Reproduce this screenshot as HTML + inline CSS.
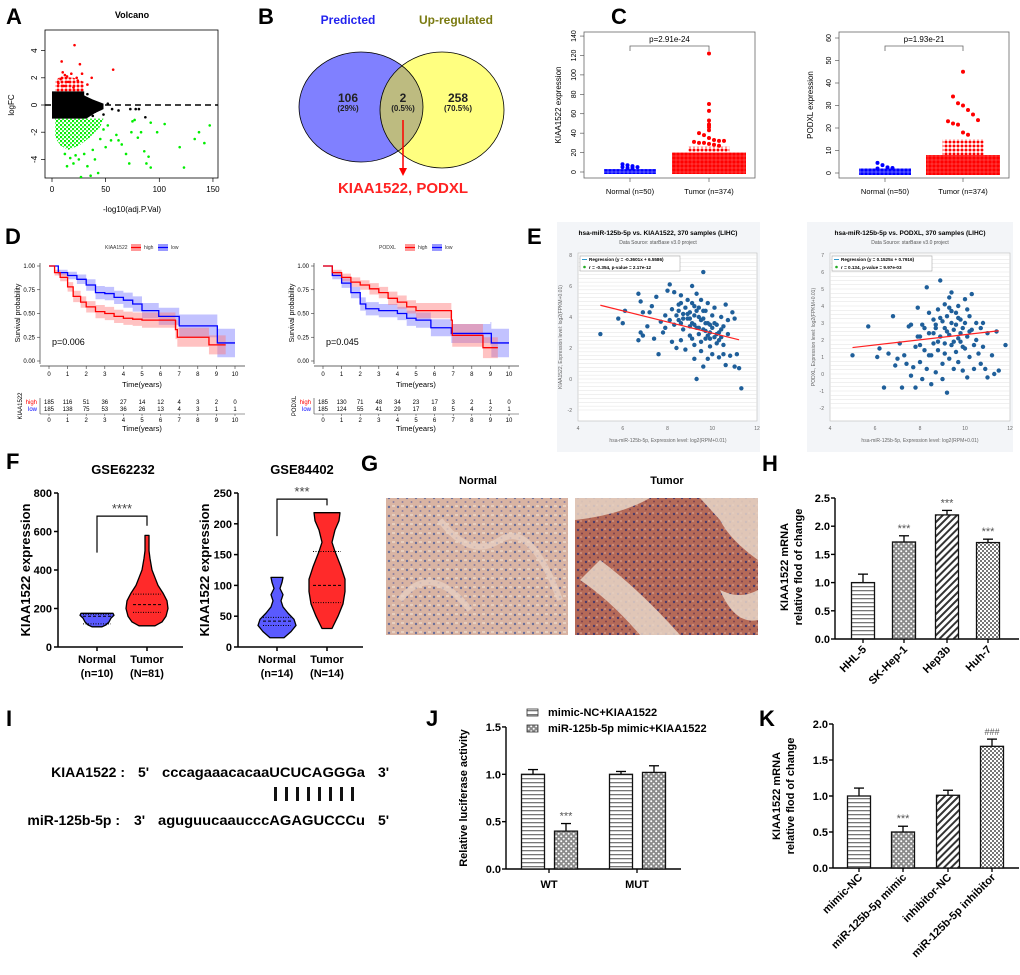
<!DOCTYPE html>
<html><head><meta charset="utf-8"><style>
html,body{margin:0;padding:0;background:#fff;}
svg{display:block;font-family:"Liberation Sans",Arial,sans-serif;}
.b{font-weight:bold;}
</style></head><body>
<svg id="fig" width="1020" height="975" viewBox="0 0 1020 975" xmlns="http://www.w3.org/2000/svg">
<defs>
<pattern id="pRed" width="4" height="4" patternUnits="userSpaceOnUse"><rect width="4" height="4" fill="#f33"/><circle cx="2" cy="2" r="1.6" fill="#f00"/></pattern>
<pattern id="pRedS" width="4" height="4" patternUnits="userSpaceOnUse"><circle cx="2" cy="2" r="1.5" fill="#f00"/></pattern>
<pattern id="pBlue" width="4" height="4" patternUnits="userSpaceOnUse"><rect width="4" height="4" fill="#55f"/><circle cx="2" cy="2" r="1.6" fill="#00f"/></pattern>
<pattern id="pGreen" width="4" height="4" patternUnits="userSpaceOnUse"><circle cx="1" cy="1" r="1.2" fill="#0e0"/><circle cx="3" cy="3" r="1" fill="#0e0"/></pattern>
<pattern id="pH" width="6" height="4" patternUnits="userSpaceOnUse"><rect width="6" height="4" fill="#fff"/><rect y="2" width="6" height="1.3" fill="#777"/></pattern>
<pattern id="pD" width="5" height="5" patternUnits="userSpaceOnUse"><rect width="5" height="5" fill="#8a8a8a"/><circle cx="1.2" cy="1.2" r="1" fill="#fff"/><circle cx="3.7" cy="3.7" r="1" fill="#fff"/></pattern>
<pattern id="pS" width="5" height="5" patternUnits="userSpaceOnUse" patternTransform="rotate(45)"><rect width="5" height="5" fill="#fff"/><rect width="2" height="5" fill="#333"/></pattern>
<pattern id="pC" width="4" height="4" patternUnits="userSpaceOnUse"><rect width="4" height="4" fill="#fff"/><rect width="2" height="2" fill="#777"/><rect x="2" y="2" width="2" height="2" fill="#777"/></pattern>
<pattern id="pTisN" width="9" height="9" patternUnits="userSpaceOnUse"><rect width="9" height="9" fill="#d9b4a3"/><circle cx="2" cy="3" r="1.2" fill="#6a6f9a"/><circle cx="6.5" cy="7" r="1" fill="#8a7fa0"/><rect x="5" y="1" width="3" height="2" fill="#e6cfc0"/></pattern>
<pattern id="pTisT" width="8" height="8" patternUnits="userSpaceOnUse"><rect width="8" height="8" fill="#b56a58"/><circle cx="2" cy="2" r="1.2" fill="#4a3a6a"/><circle cx="6" cy="5.5" r="1" fill="#7a4050"/><rect x="4" y="0" width="2" height="2" fill="#c98a78"/></pattern>
<clipPath id="clipA"><rect x="45" y="30" width="173" height="148"/></clipPath>
<clipPath id="clipE1"><rect x="578" y="253" width="179" height="168"/></clipPath>
<clipPath id="clipE2"><rect x="830" y="253" width="180" height="168"/></clipPath>
<clipPath id="clipVennL"><ellipse cx="361" cy="107" rx="62" ry="55"/></clipPath>
</defs>

<g class="b" font-size="22">
<text x="6" y="24">A</text>
<text x="258" y="24">B</text>
<text x="611" y="24">C</text>
<text x="5" y="244">D</text>
<text x="527" y="244">E</text>
<text x="6" y="469">F</text>
<text x="361" y="471">G</text>
<text x="762" y="471">H</text>
<text x="6" y="726">I</text>
<text x="426" y="726">J</text>
<text x="759" y="726">K</text>
</g>

<g id="panelA">
<text x="132" y="18" font-size="9" class="b" text-anchor="middle">Volcano</text>
<rect x="45" y="30" width="173" height="148" fill="none" stroke="#000" stroke-width="0.8"/>
<text transform="translate(14,105) rotate(-90)" font-size="8" text-anchor="middle">logFC</text>
<text x="132" y="212" font-size="8" text-anchor="middle">-log10(adj.P.Val)</text>
</g>

<g>
<text x="348" y="24" font-size="12" class="b" fill="#2222ee" text-anchor="middle">Predicted</text>
<text x="456" y="24" font-size="12" class="b" fill="#7a7a10" text-anchor="middle">Up-regulated</text>
<ellipse cx="361" cy="107" rx="62" ry="55" fill="#8080ff"/>
<ellipse cx="442" cy="110" rx="62" ry="58" fill="#ffff80"/>
<ellipse cx="442" cy="110" rx="62" ry="58" fill="#bdbb80" clip-path="url(#clipVennL)"/>
<ellipse cx="361" cy="107" rx="62" ry="55" fill="none" stroke="#000" stroke-width="0.8"/>
<ellipse cx="442" cy="110" rx="62" ry="58" fill="none" stroke="#000" stroke-width="0.8"/>
<g class="b" text-anchor="middle" fill="#222">
<text x="348" y="102" font-size="12">106</text>
<text x="348" y="111" font-size="8">(29%)</text>
<text x="403" y="102" font-size="12">2</text>
<text x="403" y="111" font-size="8">(0.5%)</text>
<text x="458" y="102" font-size="12">258</text>
<text x="458" y="111" font-size="8">(70.5%)</text>
</g>
<line x1="403" y1="120" x2="403" y2="170" stroke="#f00" stroke-width="1.5"/>
<path d="M399,168 L403,176 L407,168 Z" fill="#f00"/>
<text x="403" y="193" font-size="15" class="b" fill="#f22" text-anchor="middle">KIAA1522, PODXL</text>
</g>

<g id="panelC">
<rect x="584" y="32" width="171" height="146" fill="none" stroke="#666" stroke-width="0.8"/>
<rect x="839" y="32" width="170" height="146" fill="none" stroke="#666" stroke-width="0.8"/>
<text transform="translate(561,105) rotate(-90)" font-size="8" text-anchor="middle">KIAA1522 expression</text>
<text transform="translate(813,105) rotate(-90)" font-size="8" text-anchor="middle">PODXL expression</text>
</g>

<g id="panelD"></g>
<g id="panelE">
<rect x="557" y="222" width="203" height="230" fill="#f3f5f8"/>
<rect x="807" y="222" width="206" height="230" fill="#f3f5f8"/>
<rect x="578" y="253" width="179" height="168" fill="#fff" stroke="#bbb" stroke-width="0.6"/>
<rect x="830" y="253" width="180" height="168" fill="#fff" stroke="#bbb" stroke-width="0.6"/>
<text x="658" y="235" font-size="6.5" class="b" text-anchor="middle">hsa-miR-125b-5p vs. KIAA1522, 370 samples (LIHC)</text>
<text x="658" y="244" font-size="5" fill="#555" text-anchor="middle">Data Source:  starBase v3.0 project</text>
<text x="910" y="235" font-size="6.5" class="b" text-anchor="middle">hsa-miR-125b-5p vs. PODXL, 370 samples (LIHC)</text>
<text x="910" y="244" font-size="5" fill="#555" text-anchor="middle">Data Source:  starBase v3.0 project</text>
<text x="668" y="442" font-size="5" fill="#666" text-anchor="middle">hsa-miR-125b-5p, Expression level: log2(RPM+0.01)</text>
<text x="920" y="442" font-size="5" fill="#666" text-anchor="middle">hsa-miR-125b-5p, Expression level: log2(RPM+0.01)</text>
<text transform="translate(562,337) rotate(-90)" font-size="5" fill="#666" text-anchor="middle">KIAA1522, Expression level: log2(FPKM+0.01)</text>
<text transform="translate(815,337) rotate(-90)" font-size="5" fill="#666" text-anchor="middle">PODXL, Expression level: log2(FPKM+0.01)</text>
</g>
<g id="panelF">
<text x="123" y="474" font-size="13" class="b" text-anchor="middle">GSE62232</text>
<text x="302" y="474" font-size="13" class="b" text-anchor="middle">GSE84402</text>
<text transform="translate(30,570) rotate(-90)" font-size="13" class="b" text-anchor="middle">KIAA1522 expression</text>
<text transform="translate(209,570) rotate(-90)" font-size="13" class="b" text-anchor="middle">KIAA1522 expression</text>
</g>

<g>
<text x="478" y="484" font-size="11" class="b" text-anchor="middle">Normal</text>
<text x="667" y="484" font-size="11" class="b" text-anchor="middle">Tumor</text>
<rect x="386" y="498" width="182" height="137" fill="url(#pTisN)"/>
<path d="M440,520 Q470,560 500,540 T560,600 M400,600 Q430,560 470,610" stroke="#e8d2c4" stroke-width="6" fill="none" opacity="0.7"/>
<rect x="575" y="498" width="183" height="137" fill="url(#pTisT)"/>
<path d="M575,498 L650,498 Q620,515 575,520 Z M700,498 L758,498 L758,560 Q730,540 720,520 Z M600,560 Q640,590 680,635 L640,635 Q610,600 580,580 Z M720,590 Q740,600 758,590 L758,620 Q735,625 720,590Z" fill="#e8d6c8" opacity="0.85"/>
</g>

<g id="panelH">
<text transform="translate(788,567) rotate(-90)" font-size="11" class="b" text-anchor="middle">KIAA1522 mRNA</text>
<text transform="translate(802,567) rotate(-90)" font-size="11" class="b" text-anchor="middle">relative flod of change</text>
</g>

<g class="b" font-size="14">
<text x="125" y="777" text-anchor="end">KIAA1522 :</text>
<text x="138" y="777">5'</text>
<text x="162" y="777" textLength="203" lengthAdjust="spacingAndGlyphs">cccagaaacacaaUCUCAGGGa</text>
<text x="378" y="777">3'</text>
<text x="120" y="825" text-anchor="end">miR-125b-5p :</text>
<text x="134" y="825">3'</text>
<text x="158" y="825" textLength="207" lengthAdjust="spacingAndGlyphs">aguguucaaucccAGAGUCCCu</text>
<text x="378" y="825">5'</text>
<g fill="#111">
<rect x="274" y="787" width="3" height="14"/><rect x="285" y="787" width="3" height="14"/><rect x="296" y="787" width="3" height="14"/><rect x="307" y="787" width="3" height="14"/><rect x="318" y="787" width="3" height="14"/><rect x="329" y="787" width="3" height="14"/><rect x="340" y="787" width="3" height="14"/><rect x="351" y="787" width="3" height="14"/>
</g>
</g>

<g id="panelJ">
<text transform="translate(467,798) rotate(-90)" font-size="11" class="b" text-anchor="middle">Relative luciferase activity</text>
<rect x="527" y="709" width="11" height="7" fill="url(#pH)" stroke="#333" stroke-width="0.8"/>
<text x="548" y="716" font-size="11" class="b">mimic-NC+KIAA1522</text>
<rect x="527" y="725" width="11" height="7" fill="url(#pD)" stroke="#333" stroke-width="0.8"/>
<text x="548" y="732" font-size="11" class="b">miR-125b-5p mimic+KIAA1522</text>
</g>
<g id="panelK">
<text transform="translate(780,796) rotate(-90)" font-size="11" class="b" text-anchor="middle">KIAA1522 mRNA</text>
<text transform="translate(794,796) rotate(-90)" font-size="11" class="b" text-anchor="middle">relative flod of change</text>
</g>
</svg>

<script>
// ===== DATA =====
const volcanoRed=[[21,4.4],[9,3.2],[26,3],[57,2.6],[12,2.2],[18,2.3],[28,2.3],[37,2],[8,1.9],[15,1.7],[24,1.8],[33,1.5],[6,1.6],[11,1.4],[20,1.3],[14,2.1],[23,2.0],[10,2.4]];
const volcanoBlack=[[35,0],[45,-0.3],[56,-0.3],[73,-0.3],[78,-0.3],[81,-0.3],[87,-0.9],[48,-0.7],[40,-0.5],[62,-0.4],[52,0.1],[30,0.6],[33,0.8],[38,-0.8]];
const volcanoGreen=[[75,-1.2],[77,-1.1],[92,-1.3],[105,-1.4],[147,-1.5],[137,-2],[133,-2.5],[142,-2.8],[119,-3.1],[123,-4.6],[86,-3.4],[88,-4.3],[90,-3.8],[92,-4.6],[72,-4.3],[69,-3.6],[80,-2.4],[83,-2],[74,-2],[60,-2.2],[62,-2.6],[65,-2.9],[55,-2.6],[50,-3.1],[45,-2.5],[40,-4],[43,-5],[36,-5.2],[27,-5.3],[14,-4.5],[20,-4.3],[25,-4],[33,-4.5],[48,-1.8],[52,-1.5],[98,-2],[38,-3.3],[30,-3.6],[17,-3.9],[12,-3.6],[22,-3.7]];
const volcanoBlackCloud=[[0,-1],[0,1],[30,1],[30,0.7],[38,0.4],[48,0.1],[48,-0.3],[40,-0.6],[32,-1]];
const volcanoRedCloud=[[3,1],[3,1.8],[8,2.1],[20,2.0],[30,1.7],[30,1]];
const volcanoGreenCloud=[[3,-1],[3,-2.4],[8,-3.0],[15,-3.3],[25,-3.0],[35,-2.4],[45,-1.6],[48,-1],[30,-1]];
const volcanoXTicks=[0,50,100,150];
const volcanoYTicks=[-4,-2,0,2,4];

const cLeftTicks=[0,20,40,60,80,100,120,140];
const cRightTicks=[0,10,20,30,40,50,60];
const cLeftNormalPts=[8,7,6,5,5,4,4];
const cLeftTumorPts=[122,70,63,53,49,48,46,43,40,38,35,33,32,32,31,30,30,29,28,27];
const cRightNormalPts=[4.5,3.5,2.5,2.2,2];
const cRightTumorPts=[45,34,31,30,28,26,23.5,23,22,21.5,18,17];
const cLeftTumorBlock=20, cLeftTumorUpper=26, cLeftNormalBlock=3, cRightTumorBlock=8, cRightTumorUpper=15, cRightNormalBlock=2;

const kmLeftHigh=[[0,1],[0.3,0.93],[0.6,0.88],[1,0.78],[1.3,0.68],[1.7,0.62],[2,0.57],[2.5,0.52],[3,0.5],[3.5,0.47],[4,0.45],[4.5,0.44],[5,0.43],[6.7,0.43],[6.8,0.33],[6.9,0.25],[8.5,0.25],[8.6,0.17],[9.5,0.17]];
const kmLeftHighCI=[0,0.03,0.04,0.05,0.06,0.06,0.06,0.07,0.07,0.07,0.07,0.07,0.08,0.08,0.1,0.1,0.1,0.1,0.1];
const kmLeftLow=[[0,1],[0.5,0.93],[1,0.9],[1.5,0.86],[2,0.8],[2.5,0.72],[3,0.71],[3.5,0.67],[4,0.64],[4.5,0.6],[5,0.53],[5.8,0.53],[5.9,0.47],[6.9,0.47],[7,0.37],[9,0.37],[9.05,0.19],[10,0.19]];
const kmLeftLowCI=[0,0.03,0.04,0.05,0.06,0.07,0.07,0.07,0.08,0.08,0.08,0.08,0.09,0.09,0.12,0.12,0.15,0.15];
const kmRightHigh=[[0,1],[0.5,0.93],[1,0.88],[1.5,0.83],[2,0.8],[2.5,0.76],[3,0.72],[3.5,0.66],[4,0.62],[4.5,0.57],[5,0.53],[6.8,0.53],[6.9,0.43],[6.95,0.27],[8.5,0.27],[8.6,0.14],[9.4,0.14]];
const kmRightHighCI=[0,0.03,0.04,0.05,0.05,0.06,0.06,0.07,0.07,0.07,0.08,0.08,0.1,0.12,0.12,0.11,0.11];
const kmRightLow=[[0,1],[0.5,0.9],[1,0.82],[1.5,0.72],[2,0.6],[2.3,0.55],[3,0.53],[4,0.5],[4.5,0.45],[5,0.43],[5.7,0.43],[5.8,0.35],[6.8,0.35],[6.9,0.29],[9,0.29],[9.05,0.19],[10,0.19]];
const kmRightLowCI=[0,0.04,0.05,0.06,0.07,0.07,0.07,0.07,0.08,0.08,0.08,0.09,0.09,0.1,0.12,0.15,0.15];
const kmTimeTicks=[0,1,2,3,4,5,6,7,8,9,10];
const kmSurvTicks=[0,0.25,0.5,0.75,1];
const riskLeftHigh=[185,116,51,36,27,14,12,4,3,2,0];
const riskLeftLow=[185,138,75,53,36,26,13,4,3,1,1];
const riskRightHigh=[185,130,71,48,34,23,17,3,2,1,0];
const riskRightLow=[185,124,55,41,29,17,8,5,4,2,1];

const eLeftPts=[[5,2.9],[5.8,3.9],[6,3.6],[6.1,4.4],[6.7,5.5],[6.8,5],[6.9,4.3],[6.8,3],[6.7,2.5],[6.9,2.8],[7.1,3.4],[7.2,4.3],[7.4,2.6],[7.5,5.3],[7.6,1.6],[7.7,3.7],[7.8,3],[7.9,4.1],[8,5.7],[8.1,6.1],[8.2,4.5],[8.2,2.4],[8.3,3.5],[8.3,5.6],[8.4,2],[8.5,4.8],[8.5,3.8],[8.6,5.4],[8.6,2.5],[8.7,4.2],[8.7,3.2],[8.8,4.6],[8.8,1.9],[8.9,3.9],[8.9,5.1],[9,3.4],[9,4.3],[9,2.8],[9.1,6],[9.1,4.9],[9.1,3.6],[9.2,1.3],[9.2,4.1],[9.2,2.2],[9.3,5.5],[9.3,3.3],[9.3,0],[9.4,4.6],[9.4,2.9],[9.5,3.8],[9.5,1.8],[9.5,5.1],[9.6,6.9],[9.6,3.2],[9.6,0.8],[9.7,4.4],[9.7,2.6],[9.8,3.6],[9.8,1.3],[9.8,4.9],[9.9,3],[9.9,2.1],[10,4.1],[10,3.3],[10,1.6],[10.1,2.7],[10.1,4.6],[10.2,3.5],[10.2,2.3],[10.3,1.4],[10.3,3],[10.4,4],[10.4,2.7],[10.5,3.4],[10.5,1.6],[10.6,0.9],[10.6,4.8],[10.7,2.9],[10.7,3.8],[10.8,1.5],[10.9,4.3],[11,3.9],[11,0.8],[11.1,1.6],[11.2,0.7],[11.3,-0.6],[8.7,3.9],[9.2,3.5],[9.4,3.3],[9.6,3.9],[9.9,3.5],[8.9,4.2],[9.1,2.6],[9.7,3.1],[10.1,3.6],[8.4,4.1],[8.6,3.6],[9.3,4.4],[9.5,2.4],[9.8,2.8],[10.3,2.5],[10.4,3.2],[7.3,4.7],[7.9,3.3],[8.1,3.8],[8.5,4.4],[8.6,4.9],[9,3.9],[9.2,4.7],[9.4,4],[9.6,4.4],[9.7,3.6],[9.9,2.6],[10.2,2.9],[10.5,2.2]];
const eRightPts=[[5,1.1],[5.7,2.8],[6.1,1],[6.2,1.5],[6.4,-0.8],[6.6,1.2],[6.8,3.4],[6.9,0.5],[7,0.9],[7.1,1.8],[7.2,-0.8],[7.3,1.1],[7.4,0.6],[7.5,2.8],[7.6,2.9],[7.6,-0.1],[7.7,0.4],[7.8,1.6],[7.8,-0.8],[7.9,3.9],[8,0.7],[8,2.2],[8.1,-0.3],[8.1,2.9],[8.2,1.4],[8.3,5.1],[8.3,0.3],[8.4,3.6],[8.4,2.4],[8.5,1.1],[8.5,-0.6],[8.6,3.2],[8.6,1.8],[8.7,2.7],[8.7,0.1],[8.8,3.8],[8.8,1.4],[8.9,5.5],[8.9,2.2],[9,3.1],[9,0.6],[9,-0.3],[9.1,2.7],[9.1,4.1],[9.1,1.2],[9.2,3.4],[9.2,-1.1],[9.3,4.5],[9.3,2.3],[9.3,0.9],[9.4,3],[9.4,1.7],[9.4,4.8],[9.5,2.6],[9.5,0.3],[9.6,3.6],[9.6,1.3],[9.7,2.1],[9.7,4],[9.7,0.7],[9.8,3.2],[9.8,1.9],[9.9,2.7],[9.9,0.2],[10,4.4],[10,3],[10,1.5],[10.1,2.2],[10.1,-0.2],[10.2,3.4],[10.2,1],[10.3,2.6],[10.3,4.7],[10.4,1.7],[10.4,0.3],[10.5,3],[10.5,2],[10.6,1.2],[10.7,2.7],[10.7,0.6],[10.8,1.6],[10.8,3],[10.9,0.3],[11,2.4],[11,-0.2],[11.2,1.1],[11.3,0],[11.4,2.5],[11.5,0.2],[11.8,1.7],[8.7,2.9],[8.9,3.3],[9.2,2.5],[9.4,3.7],[9.5,1.9],[9.6,2.9],[9.8,2.4],[8.6,2.4],[8.8,1.9],[9.1,1.8],[9.3,3.9],[9.7,3.3],[9.9,1.6],[10.1,3.8],[10.2,2.5],[8.4,1.1],[8.2,2.7],[8,1.7],[7.9,2.2]];
const eLeftReg=[-0.3601,6.5586];
const eRightReg=[0.1525,0.7916];
const eXTicks=[4,6,8,10,12];
const eLeftYTicks=[-2,0,2,4,6,8];
const eRightYTicks=[-2,-1,0,1,2,3,4,5,6,7];

const fLeftTicks=[0,200,400,600,800];
const fRightTicks=[0,50,100,150,200,250];
const fLeftNormal=[[105,5],[115,9],[130,12],[150,14],[165,17],[175,16]];
const fLeftTumor=[[110,8],[130,15],[160,19],[200,21],[240,20],[280,16],[320,11],[360,8],[400,5],[430,4],[460,3],[500,2],[540,2],[580,2]];
const fRightNormal=[[15,7],[25,14],[35,19],[45,17],[55,11],[65,6],[75,4],[85,6],[95,3],[105,5],[113,6]];
const fRightTumor=[[30,5],[50,11],[70,16],[90,18],[110,18],[130,14],[155,8],[170,5],[190,8],[205,12],[218,13]];
const fLeftLines=[[160,120,170],[220,180,275]];
const fRightLines=[[42,35,48],[100,72,155]];

const hCats=['HHL-5','SK-Hep-1','Hep3b','Huh-7'];
const hVals=[1.0,1.72,2.2,1.71];
const hErr=[0.15,0.11,0.08,0.06];
const hSig=['','***','***','***'];
const hTicks=[0,0.5,1,1.5,2,2.5];
const jGroups=['WT','MUT'];
const jNC=[1.0,1.0];
const jNCErr=[0.05,0.03];
const jMimic=[0.4,1.02];
const jMimicErr=[0.08,0.07];
const jTicks=[0,0.5,1,1.5];
const kCats=['mimic-NC','miR-125b-5p mimic','inhibitor-NC','miR-125b-5p inhibitor'];
const kVals=[1.0,0.5,1.01,1.69];
const kErr=[0.11,0.08,0.07,0.1];
const kSig=['','***','','###'];
const kTicks=[0,0.5,1,1.5,2];

// ===== DRAWING =====
const NS='http://www.w3.org/2000/svg';
const svg=document.getElementById('fig');
function el(tag,attrs,parent){const e=document.createElementNS(NS,tag);for(const k in attrs)e.setAttribute(k,attrs[k]);(parent||svg).appendChild(e);return e;}
function txt(s,attrs,parent){const e=el('text',attrs,parent);e.textContent=s;return e;}

(function(){
const g=document.getElementById('panelA');
const x=v=>52+v*1.073, y=v=>105-v*13.6;
const cg=el('g',{'clip-path':'url(#clipA)'},g);
const clouds=[[volcanoBlackCloud,'#000'],[volcanoRedCloud,'url(#pRedS)'],[volcanoGreenCloud,'url(#pGreen)']];
clouds.forEach(c=>{
 const p=el('polygon',{points:c[0].map(d=>x(d[0])+','+y(d[1])).join(' '),fill:c[1]},cg);
 
 
});
[[volcanoRed,'#f00'],[volcanoBlack,'#000'],[volcanoGreen,'#0e0']].forEach(s=>{
 s[0].forEach(d=>{
  const c=el('circle',{cx:x(d[0]),cy:y(d[1]),r:1.3,fill:s[1]},cg);
  
  
 });
});
const dl=el('line',{x1:45,x2:218,y1:y(0),y2:y(0),stroke:'#000','stroke-width':1.4,'stroke-dasharray':'6,4'},g);


volcanoXTicks.forEach(t=>{
 el('line',{x1:x(t),x2:x(t),y1:178,y2:182,stroke:'#000','stroke-width':0.7},g);
 const l=txt(t,{x:x(t),y:192,'font-size':8,'text-anchor':'middle'},g);
 
 
});
volcanoYTicks.forEach(t=>{
 el('line',{x1:41,x2:45,y1:y(t),y2:y(t),stroke:'#000','stroke-width':0.7},g);
 const l=txt(t,{transform:`translate(37,${y(t)}) rotate(-90)`,'font-size':8,'text-anchor':'middle'},g);
 
 
});
})();

(function(){
const g=document.getElementById('panelC');
function draw(box,yf,ticks,normX,tumX,nBlock,tBlock,tUpper,nPts,tPts,tColW,pLabel,bracketY){
 ticks.forEach(t=>{
  el('line',{x1:box-4,x2:box,y1:yf(t),y2:yf(t),stroke:'#444','stroke-width':0.6},g);
  const l=txt(t,{transform:`translate(${box-8},${yf(t)}) rotate(-90)`,'font-size':7,'text-anchor':'middle'},g);
  
  
 });
 const nb=el('rect',{x:normX-26,y:yf(nBlock),width:52,height:yf(0)-yf(nBlock)+2,fill:'url(#pBlue)'},g);
 
 
 const tb=el('rect',{x:tumX-tColW,y:yf(tBlock),width:tColW*2,height:yf(0)-yf(tBlock)+2,fill:'url(#pRed)'},g);
 
 
 const tu=el('rect',{x:tumX-tColW*0.55,y:yf(tUpper),width:tColW*1.1,height:yf(tBlock)-yf(tUpper),fill:'url(#pRedS)'},g);
 
 
 nPts.forEach((v,i)=>{
  const c=el('circle',{cx:normX+((i%4)-1.5)*5,cy:yf(v),r:2,fill:'#00f'},g);
  
  
 });
 tPts.forEach((v,i)=>{
  const off=v>40?0:((i%7)-3)*5;
  const c=el('circle',{cx:tumX+off,cy:yf(v),r:2,fill:'#f00'},g);
  
  
 });
 el('path',{d:`M${normX},${bracketY+5} V${bracketY} H${tumX} V${bracketY+5}`,fill:'none',stroke:'#666','stroke-width':0.8},g);
 const p=txt(pLabel,{x:(normX+tumX)/2,y:bracketY-4,'font-size':8,'text-anchor':'middle'},g);
 
 
 [[normX,'Normal (n=50)'],[tumX,'Tumor (n=374)']].forEach(d=>{
  el('line',{x1:d[0],x2:d[0],y1:178,y2:182,stroke:'#444','stroke-width':0.6},g);
  const l=txt(d[1],{x:d[0],y:194,'font-size':7.5,'text-anchor':'middle'},g);
  
  
 });
}
draw(584,v=>172-v*0.971,cLeftTicks,630,709,cLeftNormalBlock,cLeftTumorBlock,cLeftTumorUpper,cLeftNormalPts,cLeftTumorPts,37,'p=2.91e-24',46);
draw(839,v=>173-v*2.25,cRightTicks,885,963,cRightNormalBlock,cRightTumorBlock,cRightTumorUpper,cRightNormalPts,cRightTumorPts,37,'p=1.93e-21',46);
})();

(function(){
const g=document.getElementById('panelD');
const y=s=>361-s*95;
function step(pts,x){let d=`M${x(pts[0][0])},${y(pts[0][1])}`;for(let i=1;i<pts.length;i++)d+=` H${x(pts[i][0])} V${y(pts[i][1])}`;return d;}
function band(pts,ci,x){
 const up=pts.map((p,i)=>[p[0],Math.min(1,p[1]+ci[i])]);
 const lo=pts.map((p,i)=>[p[0],Math.max(0,p[1]-ci[i])]);
 let d=`M${x(up[0][0])},${y(up[0][1])}`;
 for(let i=1;i<up.length;i++)d+=` H${x(up[i][0])} V${y(up[i][1])}`;
 d+=` V${y(lo[lo.length-1][1])}`;
 for(let i=lo.length-2;i>=0;i--)d+=` H${x(lo[i+1][0])} V${y(lo[i][1])}`;
 return d+' Z';
}
function km(ox,high,highCI,low,lowCI,gene,pval,rH,rL){
 const x=t=>ox+9+t*18.6;
 const ax=ox;
 const b1=el('path',{d:band(low,lowCI,x),fill:'#7777ff',opacity:0.45},g);
 
 
 const b2=el('path',{d:band(high,highCI,x),fill:'#ff7777',opacity:0.45},g);
 
 
 const l1=el('path',{d:step(low,x),fill:'none',stroke:'#00f','stroke-width':1.3},g);
 
 
 const l2=el('path',{d:step(high,x),fill:'none',stroke:'#f00','stroke-width':1.3},g);
 
 
 el('line',{x1:ax,x2:ax,y1:263,y2:364,stroke:'#333','stroke-width':0.7},g);
 el('line',{x1:ax,x2:ax+205,y1:366,y2:366,stroke:'#333','stroke-width':0.7},g);
 kmSurvTicks.forEach(s=>{
  el('line',{x1:ax-3,x2:ax,y1:y(s),y2:y(s),stroke:'#333','stroke-width':0.6},g);
  const t=txt(s.toFixed(2),{x:ax-5,y:y(s)+2,'font-size':6,'text-anchor':'end'},g);
  
  
 });
 kmTimeTicks.forEach((tt,i)=>{
  el('line',{x1:x(tt),x2:x(tt),y1:366,y2:369,stroke:'#333','stroke-width':0.6},g);
  const t=txt(tt,{x:x(tt),y:376,'font-size':6,'text-anchor':'middle'},g);
  
  
  const a=txt(rH[i],{x:x(tt),y:404,'font-size':6,'text-anchor':'middle'},g);
  
  
  const b=txt(rL[i],{x:x(tt),y:411,'font-size':6,'text-anchor':'middle'},g);
  
  
  el('line',{x1:x(tt),x2:x(tt),y1:414,y2:416,stroke:'#333','stroke-width':0.5},g);
  const c=txt(tt,{x:x(tt),y:422,'font-size':6,'text-anchor':'middle'},g);
  
  
 });
 txt('Time(years)',{x:ox+102,y:387,'font-size':7.5,'text-anchor':'middle'},g);
 txt('Time(years)',{x:ox+102,y:431,'font-size':7.5,'text-anchor':'middle'},g);
 txt('Survival probability',{transform:`translate(${ax-20},313) rotate(-90)`,'font-size':7,'text-anchor':'middle'},g);
 txt(pval,{x:ox+12,y:345,'font-size':9},g);
 el('line',{x1:ax,x2:ax,y1:398,y2:414,stroke:'#333','stroke-width':0.6},g);
 el('line',{x1:ax,x2:ax+205,y1:414,y2:414,stroke:'#333','stroke-width':0.6},g);
 txt('high',{x:ax-3,y:404,'font-size':6,fill:'#f00','text-anchor':'end'},g);
 txt('low',{x:ax-3,y:411,'font-size':6,fill:'#00f','text-anchor':'end'},g);
 txt(gene,{transform:`translate(${ax-18},406) rotate(-90)`,'font-size':6,'text-anchor':'middle'},g);
 const lx=ox+65;
 txt(gene,{x:lx,y:249,'font-size':5,fill:'#333'},g);
 el('rect',{x:lx+26,y:244,width:10,height:7,fill:'#ff9999'},g);
 el('line',{x1:lx+26,x2:lx+36,y1:247.5,y2:247.5,stroke:'#f00','stroke-width':1.2},g);
 txt('high',{x:lx+39,y:249,'font-size':5,fill:'#333'},g);
 el('rect',{x:lx+53,y:244,width:10,height:7,fill:'#9999ff'},g);
 el('line',{x1:lx+53,x2:lx+63,y1:247.5,y2:247.5,stroke:'#00f','stroke-width':1.2},g);
 txt('low',{x:lx+66,y:249,'font-size':5,fill:'#333'},g);
}
km(40,kmLeftHigh,kmLeftHighCI,kmLeftLow,kmLeftLowCI,'KIAA1522','p=0.006',riskLeftHigh,riskLeftLow);
km(314,kmRightHigh,kmRightHighCI,kmRightLow,kmRightLowCI,'PODXL','p=0.045',riskRightHigh,riskRightLow);
})();

(function(){
const g=document.getElementById('panelE');
function sc(bx,bw,yf,yTicks,pts,reg,clip,x0,x1,rText){
 const x=v=>bx+(v-4)*bw/8;
 for(let v=yTicks[0];v<=yTicks[yTicks.length-1]+0.001;v+=0.25){
  el('line',{x1:bx,x2:bx+bw,y1:yf(v),y2:yf(v),stroke:'#e2e2e2','stroke-width':0.5},g);
 }
 yTicks.forEach(t=>{
  const l=txt(t,{x:bx-6,y:yf(t)+2,'font-size':5,fill:'#666','text-anchor':'end'},g);
  
  
 });
 eXTicks.forEach(t=>{
  const l=txt(t,{x:x(t),y:430,'font-size':5,fill:'#666','text-anchor':'middle'},g);
  
  
 });
 const cg=el('g',{'clip-path':`url(#${clip})`},g);
 pts.forEach(p=>{
  const c=el('circle',{cx:x(p[0]),cy:yf(p[1]),r:2.2,fill:'#1f5f9a'},cg);
  
  
 });
 const rl=el('line',{x1:x(x0),y1:yf(reg[0]*x0+reg[1]),x2:x(x1),y2:yf(reg[0]*x1+reg[1]),stroke:'#f22','stroke-width':1.2},g);
 
 
 const lb=el('rect',{x:bx+2,y:256,width:100,height:15,fill:'#fff',stroke:'#999','stroke-width':0.5},g);
 
 
 el('line',{x1:bx+4,x2:bx+9,y1:259.5,y2:259.5,stroke:'#39c','stroke-width':1},g);
 txt(`Regression (y = ${reg[0]>0?'':'-'}${Math.abs(reg[0])}x + ${reg[1]})`,{x:bx+11,y:261,'font-size':4.6,class:'b'},g);
 el('circle',{cx:bx+6.5,cy:267,r:1.3,fill:'#2a2'},g);
 txt(rText,{x:bx+11,y:269,'font-size':4.6,class:'b'},g);
}
sc(578,179,v=>379-v*15.5,eLeftYTicks,eLeftPts,eLeftReg,'clipE1',5,11.2,'r = -0.354, p-value = 2.17e-12');
sc(830,180,v=>374-v*17,eRightYTicks,eRightPts,eRightReg,'clipE2',5,11.5,'r = 0.134, p-value = 9.97e-03');
})();

(function(){
const g=document.getElementById('panelF');
function vio(ax,yf,ticks,nx,tx,nProf,tProf,lines,stars,br,nLeg,tLeg,nLab,tLab){
 el('line',{x1:ax,x2:ax,y1:493,y2:647,stroke:'#000','stroke-width':1.5},g);
 el('line',{x1:ax,x2:ax+125,y1:647,y2:647,stroke:'#000','stroke-width':1.5},g);
 ticks.forEach(t=>{
  el('line',{x1:ax-4,x2:ax,y1:yf(t),y2:yf(t),stroke:'#000','stroke-width':1.5},g);
  const l=txt(t,{x:ax-6,y:yf(t)+4,'font-size':11,class:'b','text-anchor':'end'},g);
  
  
 });
 [[nx,nProf,'#5a5aff',lines[0],'f-violin-normal'],[tx,tProf,'#ff2a2a',lines[1],'f-violin-tumor']].forEach(v=>{
  const cx=v[0],pr=v[1];
  const right=pr.map(p=>`${cx+p[1]},${yf(p[0])}`);
  const left=pr.slice().reverse().map(p=>`${cx-p[1]},${yf(p[0])}`);
  const poly=el('polygon',{points:right.concat(left).join(' '),fill:v[2],stroke:'#000','stroke-width':1.3,'stroke-linejoin':'round'},g);
  
  
  v[3].forEach((q,i)=>{
   el('line',{x1:cx-14,x2:cx+14,y1:yf(q),y2:yf(q),stroke:'#000','stroke-width':1,'stroke-dasharray':i===0?'3,2':'1,1.5'},g);
  });
  el('line',{x1:cx,x2:cx,y1:647,y2:651,stroke:'#000','stroke-width':1.5},g);
 });
 el('path',{d:`M${nx},${yf(nLeg)} V${yf(br)} H${tx} V${yf(tLeg)}`,fill:'none',stroke:'#000','stroke-width':1.2},g);
 const s=txt(stars,{x:(nx+tx)/2,y:yf(br)-3,'font-size':13,fill:'#444','text-anchor':'middle'},g);
 
 
 txt('Normal',{x:nx,y:663,'font-size':11,class:'b','text-anchor':'middle'},g);
 txt(nLab,{x:nx,y:677,'font-size':11,class:'b','text-anchor':'middle'},g);
 txt('Tumor',{x:tx,y:663,'font-size':11,class:'b','text-anchor':'middle'},g);
 txt(tLab,{x:tx,y:677,'font-size':11,class:'b','text-anchor':'middle'},g);
}
vio(58,v=>647-v*0.1925,fLeftTicks,97,147,fLeftNormal,fLeftTumor,fLeftLines,'****',680,490,630,'(n=10)','(N=81)');
vio(238,v=>647-v*0.616,fRightTicks,277,327,fRightNormal,fRightTumor,fRightLines,'***',240,180,230,'(n=14)','(N=14)');
})();

function bars(gid,ax,axEnd,y0,pxPer,ticks,xs,vals,errs,fills,sig,cats,catY,prefix){
 const g=document.getElementById(gid);
 const yf=v=>y0-v*pxPer;
 el('line',{x1:ax,x2:ax,y1:yf(ticks[ticks.length-1]),y2:y0,stroke:'#000','stroke-width':1.4},g);
 el('line',{x1:ax,x2:axEnd,y1:y0,y2:y0,stroke:'#000','stroke-width':1.4},g);
 ticks.forEach(t=>{
  el('line',{x1:ax-4,x2:ax,y1:yf(t),y2:yf(t),stroke:'#000','stroke-width':1.4},g);
  const l=txt(t.toFixed(1),{x:ax-5,y:yf(t)+4,'font-size':11,class:'b','text-anchor':'end'},g);
  
  
 });
 vals.forEach((v,i)=>{
  const cx=xs[i],w=23;
  el('line',{x1:cx,x2:cx,y1:yf(v),y2:yf(v+errs[i]),stroke:'#000','stroke-width':1.3},g);
  el('line',{x1:cx-5,x2:cx+5,y1:yf(v+errs[i]),y2:yf(v+errs[i]),stroke:'#000','stroke-width':1.3},g);
  const r=el('rect',{x:cx-w/2,y:yf(v),width:w,height:y0-yf(v),fill:fills[i],stroke:'#111','stroke-width':1.3},g);
  
  
  if(sig[i]){
   const s=txt(sig[i],{x:cx,y:yf(v+errs[i])-4,'font-size':sig[i][0]==='#'?9:11,fill:'#555','text-anchor':'middle'},g);
   
   
  }
  if(cats){
   el('line',{x1:cx,x2:cx,y1:y0,y2:y0+4,stroke:'#000','stroke-width':1.3},g);
   const c=txt(cats[i],{transform:`translate(${cx+4},${catY}) rotate(-45)`,'font-size':11,class:'b','text-anchor':'end'},g);
   
   
  }
 });
}
bars('panelH',835,1019,639,56.4,hTicks,[863,904,947,988],hVals,hErr,['url(#pH)','url(#pD)','url(#pS)','url(#pC)'],hSig,hCats,650,'h');
bars('panelK',833,1019,868,72,kTicks,[859,903,948,992],kVals,kErr,['url(#pH)','url(#pD)','url(#pS)','url(#pC)'],kSig,kCats,878,'k');
(function(){
 const gx=[549,637];
 const xs=[],vals=[],errs=[],fills=[],sig=[];
 jGroups.forEach((gname,i)=>{
  xs.push(gx[i]-16,gx[i]+17);vals.push(jNC[i],jMimic[i]);errs.push(jNCErr[i],jMimicErr[i]);
  fills.push('url(#pH)','url(#pD)');sig.push('',jMimic[i]<0.7?'***':'');
 });
 bars('panelJ',506,681,869,94.7,jTicks,xs,vals,errs,fills,sig,null,0,'j');
 const g=document.getElementById('panelJ');
 jGroups.forEach((gname,i)=>{
  el('line',{x1:gx[i],x2:gx[i],y1:869,y2:873,stroke:'#000','stroke-width':1.3},g);
  const t=txt(gname,{x:gx[i],y:888,'font-size':11,class:'b','text-anchor':'middle'},g);
  
  
 });
})();
</script>
</body></html>
